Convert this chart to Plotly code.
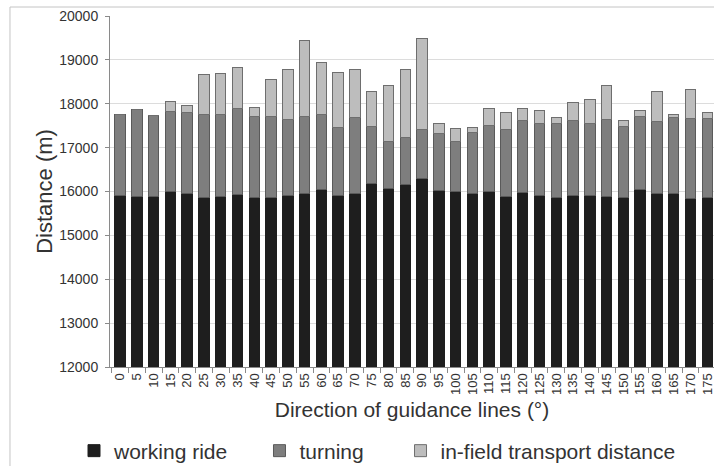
import plotly.graph_objects as go

# Direction of guidance lines (degrees)
angles = ["0", "5", "10", "15", "20", "25", "30", "35", "40", "45", "50", "55",
          "60", "65", "70", "75", "80", "85", "90", "95", "100", "105", "110", "115",
          "120", "125", "130", "135", "140", "145", "150", "155", "160", "165", "170", "175"]

# Distance components (m)
working_ride = [15920, 15890, 15890, 16000, 15960, 15870, 15890, 15940, 15870, 15860, 15900, 15960,
                16040, 15900, 15950, 16180, 16070, 16170, 16290, 16020, 15990, 15950, 15990, 15890,
                15970, 15900, 15870, 15920, 15900, 15890, 15870, 16040, 15950, 15950, 15830, 15870]
turning = [1830, 1990, 1840, 1830, 1840, 1880, 1860, 1960, 1840, 1850, 1750, 1750,
           1710, 1560, 1730, 1300, 1080, 1060, 1130, 1310, 1160, 1390, 1520, 1530,
           1650, 1640, 1690, 1700, 1660, 1760, 1610, 1670, 1640, 1730, 1830, 1790]
transport = [0, 0, 0, 230, 170, 910, 930, 920, 210, 840, 1140, 1740,
             1200, 1260, 1090, 810, 1260, 1560, 2070, 210, 280, 130, 380, 390,
             280, 300, 120, 420, 540, 760, 140, 140, 700, 70, 660, 140]

y_ticks = [12000, 13000, 14000, 15000, 16000, 17000, 18000, 19000, 20000]

FONT = "Liberation Sans, Arial, sans-serif"
TXT = "#333333"

series = [
    ("working ride", working_ride, "#1e1e1e", "#1e1e1e", "legend"),
    ("turning", turning, "#7e7e7e", "#5a5a5a", "legend2"),
    ("in-field transport distance", transport, "#bdbdbd", "#6e6e6e", "legend3"),
]

fig = go.Figure()
for name, vals, fill, edge, leg in series:
    fig.add_trace(go.Bar(
        x=angles, y=vals, name=name, legend=leg, showlegend=True,
        marker=dict(color=fill, line=dict(color=edge, width=1)),
    ))

legend_common = dict(
    orientation="h", yanchor="middle", y=-0.2393, xanchor="left",
    font=dict(family=FONT, size=21, color=TXT),
    bgcolor="rgba(0,0,0,0)", borderwidth=0, visible=True,
)

fig.update_layout(
    width=714, height=466,
    margin=dict(l=110, r=0, t=16, b=99, autoexpand=False),
    barmode="stack", bargap=0.38,
    plot_bgcolor="white", paper_bgcolor="white",
    showlegend=True,
    font=dict(family=FONT, color=TXT),
    legend=dict(x=-0.0596, **legend_common),
    legend2=dict(x=0.2475, **legend_common),
    legend3=dict(x=0.481, **legend_common),
    xaxis=dict(
        type="category", range=[-0.6, 35.4],
        tickangle=-90, tickfont=dict(family=FONT, size=13, color=TXT),
        ticks="outside", ticklen=5, tickcolor="#8a8a8a", tickson="boundaries",
        showline=True, linecolor="#8a8a8a", linewidth=1,
        showgrid=False,
        title=dict(text="Direction of guidance lines (°)",
                   font=dict(family=FONT, size=21, color=TXT), standoff=8),
        automargin=False,
    ),
    yaxis=dict(
        range=[12000, 20000], tickvals=y_ticks, tickformat="d",
        tickfont=dict(family=FONT, size=14, color=TXT),
        ticks="outside", ticklen=4, tickcolor="#8a8a8a", ticklabelstandoff=4,
        showline=True, linecolor="#8a8a8a", linewidth=1,
        showgrid=True, gridcolor="#dcdcdc", gridwidth=1,
        zeroline=False,
        title=dict(text="Distance (m)",
                   font=dict(family=FONT, size=22, color=TXT), standoff=0),
        automargin=False,
    ),
    shapes=[
        dict(type="line", xref="paper", yref="paper",
             x0=-0.1656, x1=1.0, y0=1.0256, y1=1.0256,
             line=dict(color="#c4c4c4", width=1)),
        dict(type="line", xref="paper", yref="paper",
             x0=-0.1656, x1=-0.1656, y0=1.0256, y1=-0.29,
             line=dict(color="#c4c4c4", width=1)),
    ],
)

fig.write_html("out.html")
